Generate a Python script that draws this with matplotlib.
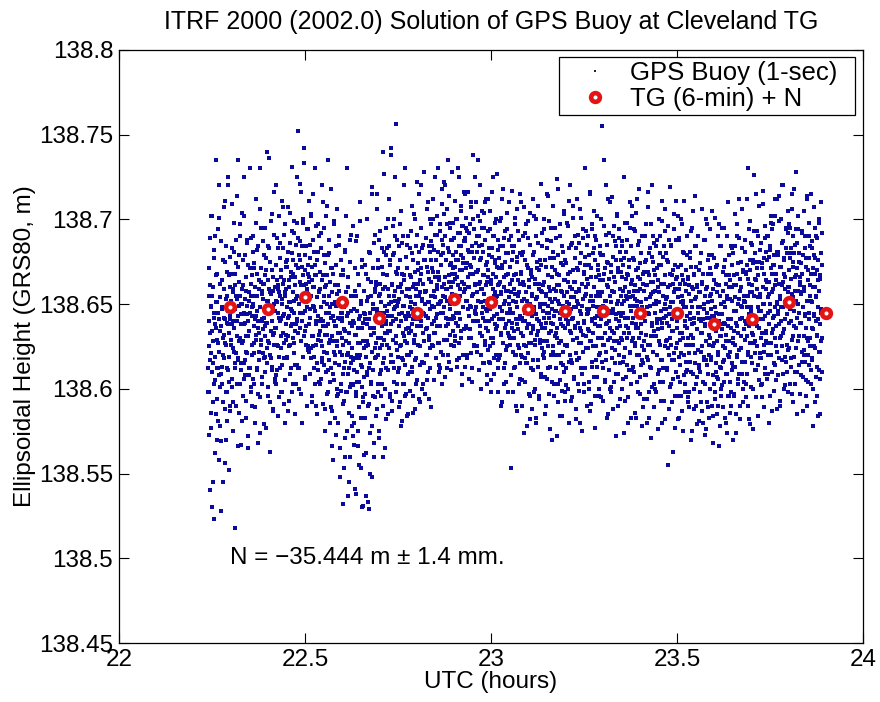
import numpy as np
import matplotlib
matplotlib.use('Agg')
import matplotlib.pyplot as plt
from matplotlib.lines import Line2D
from matplotlib.ticker import FormatStrFormatter

plt.rcParams['font.family'] = ['Liberation Sans', 'DejaVu Sans']

# GPS buoy heights, in mm above 138 m.
# two sample sets, each one value every 0.001 h, the second offset by half a step
buoy_start_a = 22.24
buoy_start_b = 22.2405
buoy_step = 0.001
buoy_height_a_mm = [
    612, 655, 598, 671, 540, 633, 689, 621, 577, 648, 702, 530, 615, 660, 592, 645, 523, 682, 638, 605, 667, 735, 585, 629, 651, 570, 694, 612, 641, 558,
    647, 603, 676, 620, 545, 659, 632, 711, 588, 641, 626, 570, 684, 612, 655, 598, 638, 720, 552, 667, 619, 643, 590, 701, 634, 578, 662, 609, 528, 648,
    655, 621, 688, 640, 603, 672, 735, 617, 649, 586, 663, 630, 697, 611, 644, 567, 678, 626, 652, 601, 709, 638, 659, 592, 624, 681, 647, 518, 615, 668,
    634, 671, 612, 655, 598, 689, 643, 620, 667, 581, 650, 704, 628, 661, 606, 645, 725, 617, 679, 639, 593, 658, 622, 686, 644, 565, 631, 673, 608, 652,
    662, 618, 649, 690, 627, 603, 671, 641, 580, 655, 712, 632, 668, 611, 646, 597, 684, 636, 659, 622, 730, 648, 574, 663, 629, 695, 640, 607, 656, 621,
    639, 677, 615, 652, 740, 628, 664, 596, 645, 683, 620, 657, 563, 634, 699, 648, 611, 670, 632, 588, 658, 716, 626, 650, 604, 679, 642, 619, 667, 637,
    655, 612, 686, 641, 624, 670, 598, 653, 707, 633, 662, 618, 644, 691, 580, 657, 629, 675, 646, 603, 720, 636, 664, 611, 651, 683, 625, 659, 595, 642,
    668, 627, 652, 699, 614, 661, 638, 685, 603, 655, 725, 632, 672, 619, 648, 587, 681, 643, 660, 625, 704, 651, 609, 666, 637, 693, 646, 598, 676, 630,
    657, 694, 623, 668, 641, 752, 612, 679, 650, 600, 687, 636, 663, 716, 628, 655, 580, 672, 645, 698, 619, 661, 733, 634, 670, 607, 651, 684, 626, 659,
    642, 677, 618, 655, 703, 631, 664, 596, 649, 688, 625, 660, 612, 730, 646, 673, 590, 638, 667, 615, 654, 697, 629, 681, 604, 658, 640, 711, 622, 663,
    651, 614, 679, 632, 660, 588, 645, 702, 621, 667, 597, 638, 735, 611, 655, 680, 627, 648, 580, 671, 634, 659, 606, 692, 641, 618, 664, 625, 710, 637,
    628, 661, 597, 642, 685, 614, 652, 548, 633, 676, 603, 645, 620, 718, 589, 657, 631, 566, 668, 609, 640, 699, 622, 583, 651, 615, 673, 637, 600, 656,
    619, 655, 584, 637, 696, 603, 642, 532, 626, 670, 593, 648, 612, 560, 681, 634, 598, 657, 620, 730, 575, 645, 609, 666, 627, 545, 639, 601, 688, 615,
    611, 647, 580, 632, 671, 598, 655, 538, 620, 690, 604, 636, 566, 661, 618, 589, 643, 710, 627, 553, 650, 601, 676, 613, 531, 639, 595, 658, 624, 572,
    628, 665, 590, 641, 529, 612, 680, 636, 574, 655, 603, 715, 622, 548, 647, 596, 671, 633, 560, 659, 618, 691, 607, 641, 583, 668, 625, 537, 652, 610,
    645, 603, 672, 626, 590, 659, 740, 618, 681, 633, 565, 649, 612, 695, 638, 584, 663, 627, 706, 645, 598, 671, 620, 655, 575, 688, 641, 609, 662, 630,
    652, 690, 627, 756, 641, 603, 668, 619, 683, 646, 585, 659, 634, 712, 624, 650, 597, 676, 638, 742, 616, 661, 643, 593, 679, 629, 655, 700, 612, 648,
    636, 671, 610, 653, 589, 644, 697, 625, 662, 578, 640, 686, 618, 657, 603, 649, 720, 631, 667, 596, 643, 614, 678, 635, 659, 584, 627, 690, 645, 609,
    651, 613, 680, 638, 596, 660, 627, 703, 645, 588, 669, 632, 655, 618, 691, 641, 605, 674, 626, 662, 715, 637, 592, 657, 620, 683, 648, 610, 666, 634,
    658, 620, 689, 643, 605, 672, 636, 710, 651, 594, 665, 629, 681, 647, 612, 697, 655, 625, 720, 640, 668, 600, 652, 685, 633, 662, 615, 676, 644, 657,
    664, 627, 693, 651, 612, 679, 645, 718, 660, 603, 687, 638, 671, 655, 625, 700, 648, 682, 633, 666, 725, 642, 676, 618, 659, 691, 637, 669, 650, 610,
    671, 634, 698, 655, 620, 685, 648, 722, 666, 607, 690, 642, 676, 659, 629, 706, 652, 735, 638, 681, 663, 616, 695, 647, 673, 626, 660, 688, 641, 668,
    668, 700, 639, 676, 652, 617, 692, 661, 730, 645, 684, 627, 670, 655, 708, 634, 679, 602, 663, 696, 648, 674, 620, 687, 657, 715, 642, 672, 631, 665,
    660, 692, 635, 673, 648, 710, 621, 681, 655, 604, 668, 700, 640, 677, 626, 662, 725, 645, 686, 613, 659, 695, 637, 671, 652, 618, 682, 647, 666, 630,
    681, 642, 667, 615, 695, 652, 628, 710, 661, 636, 675, 603, 648, 690, 657, 622, 735, 670, 640, 684, 611, 663, 699, 633, 651, 677, 620, 659, 705, 645,
    637, 672, 655, 598, 688, 646, 623, 666, 712, 640, 679, 615, 651, 694, 630, 662, 605, 683, 649, 725, 627, 668, 643, 690, 618, 657, 676, 635, 700, 654,
    662, 620, 684, 648, 701, 633, 656, 592, 673, 641, 718, 627, 660, 689, 612, 652, 675, 638, 604, 667, 645, 694, 625, 658, 680, 631, 710, 650, 617, 671,
    645, 681, 612, 659, 634, 697, 620, 668, 651, 590, 675, 638, 706, 626, 655, 603, 688, 641, 662, 615, 715, 647, 630, 672, 553, 657, 684, 636, 664, 622,
    652, 615, 689, 638, 671, 597, 660, 627, 704, 645, 582, 668, 633, 656, 710, 620, 679, 642, 605, 663, 690, 631, 653, 574, 676, 640, 618, 697, 648, 625,
    638, 673, 609, 657, 692, 624, 650, 588, 666, 635, 712, 617, 681, 646, 600, 662, 629, 700, 653, 580, 675, 641, 613, 686, 634, 659, 596, 670, 627, 648,
    661, 622, 694, 642, 607, 676, 636, 655, 590, 683, 628, 715, 649, 612, 667, 633, 699, 645, 576, 658, 620, 687, 639, 604, 672, 651, 625, 708, 643, 596,
    630, 668, 603, 652, 718, 627, 661, 584, 645, 690, 615, 674, 638, 657, 599, 681, 622, 649, 705, 610, 664, 636, 593, 677, 646, 620, 695, 633, 658, 572,
    654, 617, 685, 641, 595, 670, 629, 708, 648, 606, 663, 637, 690, 621, 657, 582, 676, 643, 612, 698, 651, 626, 668, 600, 640, 683, 616, 660, 634, 720,
    639, 678, 612, 656, 693, 624, 665, 590, 647, 712, 630, 671, 603, 650, 686, 618, 659, 636, 580, 674, 644, 701, 627, 662, 609, 653, 689, 632, 669, 598,
    657, 620, 690, 645, 604, 673, 634, 715, 652, 587, 666, 628, 697, 641, 613, 680, 649, 625, 705, 660, 596, 676, 638, 655, 617, 688, 643, 607, 670, 630,
    641, 679, 616, 657, 755, 626, 664, 593, 648, 696, 633, 671, 605, 652, 720, 622, 685, 639, 660, 585, 674, 645, 611, 692, 630, 667, 600, 655, 680, 637,
    663, 623, 687, 644, 609, 676, 636, 702, 652, 590, 669, 627, 694, 640, 615, 681, 655, 630, 710, 646, 598, 673, 634, 658, 618, 690, 647, 604, 666, 628,
    636, 672, 611, 654, 695, 621, 662, 583, 646, 708, 628, 669, 600, 650, 684, 616, 658, 633, 574, 677, 642, 698, 624, 665, 607, 653, 688, 630, 667, 595,
    617, 668, 643, 589, 702, 655, 630, 676, 610, 649, 693, 625, 661, 583, 638, 712, 652, 604, 671, 636, 658, 620, 687, 645, 597, 665, 633, 680, 614, 648,
    640, 675, 608, 653, 697, 619, 661, 580, 645, 716, 626, 667, 598, 649, 683, 613, 656, 631, 571, 678, 639, 690, 622, 663, 603, 650, 686, 628, 669, 594,
    673, 628, 651, 604, 690, 641, 617, 662, 580, 699, 636, 655, 612, 678, 647, 593, 667, 625, 706, 643, 658, 600, 684, 631, 650, 620, 671, 639, 609, 660,
    634, 670, 606, 651, 694, 617, 659, 577, 643, 711, 624, 665, 596, 647, 680, 611, 654, 629, 555, 675, 637, 688, 620, 661, 601, 648, 684, 626, 667, 592,
    648, 610, 679, 636, 595, 666, 627, 702, 644, 582, 659, 619, 688, 633, 604, 673, 651, 621, 697, 655, 587, 664, 630, 650, 608, 680, 640, 598, 662, 616,
    656, 621, 589, 677, 641, 610, 693, 632, 660, 575, 648, 705, 626, 668, 600, 639, 684, 615, 653, 590, 672, 635, 661, 607, 645, 690, 623, 581, 657, 630,
    633, 668, 604, 647, 688, 619, 655, 573, 638, 700, 617, 660, 592, 642, 676, 609, 651, 626, 583, 671, 630, 694, 612, 657, 598, 640, 680, 622, 663, 587,
    645, 607, 673, 628, 590, 661, 620, 697, 640, 578, 655, 613, 684, 631, 600, 668, 647, 617, 705, 652, 584, 659, 625, 643, 603, 677, 636, 594, 662, 610,
    622, 664, 598, 641, 683, 611, 652, 570, 635, 695, 616, 658, 589, 639, 672, 604, 648, 624, 580, 667, 628, 690, 609, 653, 596, 637, 679, 619, 660, 586,
    651, 613, 680, 634, 597, 667, 626, 703, 646, 585, 661, 619, 690, 637, 606, 674, 653, 623, 712, 658, 590, 665, 631, 649, 609, 683, 642, 600, 669, 616,
    638, 673, 609, 655, 730, 620, 662, 582, 644, 699, 627, 670, 601, 648, 685, 615, 657, 632, 576, 676, 640, 693, 621, 665, 604, 651, 688, 629, 668, 595,
    656, 618, 686, 641, 603, 674, 633, 709, 650, 589, 668, 626, 696, 643, 612, 681, 659, 628, 715, 664, 595, 671, 637, 654, 614, 690, 646, 605, 675, 621,
    643, 679, 614, 661, 702, 625, 668, 588, 650, 712, 633, 676, 606, 654, 690, 620, 663, 638, 580, 682, 646, 698, 627, 671, 610, 657, 694, 635, 673, 599,
    660, 623, 692, 646, 608, 679, 638, 714, 655, 593, 672, 631, 700, 648, 617, 686, 663, 633, 720, 668, 600, 676, 641, 659, 619, 695, 651, 610, 680, 626,
    647, 683, 618, 665, 706, 629, 672, 592, 654, 718, 637, 680, 610, 658, 694, 624, 667, 642, 585, 686, 650, 702, 631, 675, 614, 661, 697, 639, 677, 603,
    658, 620, 690, 644, 605, 677, 636, 712, 652, 590, 670, 628, 698, 645, 614, 684, 661, 630, 715, 666, 597, 674, 639, 656, 616, 692, 648, 607, 679, 623,
    641, 676, 611, 658, 700, 622, 665, 585, 647, 710, 630, 673, 603, 651, 687, 617, 660, 635, 578, 679, 643, 695, 624, 668, 607, 654, 690, 632, 670, 596,
]
buoy_height_b_mm = [
    598, 640, 625, 573, 661, 617, 649, 702, 586, 634, 610, 655, 545, 628, 677, 603, 642, 619, 690, 562, 636, 651, 594, 612, 668, 627, 581, 645, 720, 608,
    622, 654, 601, 687, 637, 569, 648, 613, 664, 592, 630, 707, 618, 642, 556, 675, 627, 598, 653, 639, 581, 669, 611, 646, 725, 604, 633, 660, 587, 641,
    668, 629, 651, 606, 683, 640, 575, 657, 622, 698, 636, 612, 661, 647, 590, 674, 631, 714, 653, 618, 643, 566, 679, 628, 655, 603, 690, 638, 650, 615,
    627, 659, 644, 596, 676, 615, 638, 702, 653, 608, 631, 666, 583, 649, 621, 688, 640, 572, 657, 634, 612, 671, 645, 730, 601, 662, 626, 648, 590, 681,
    650, 606, 637, 674, 621, 660, 589, 643, 698, 629, 655, 612, 682, 640, 568, 664, 633, 617, 706, 648, 595, 671, 626, 658, 641, 603, 687, 635, 653, 579,
    662, 631, 695, 610, 648, 577, 670, 639, 624, 684, 652, 601, 659, 736, 627, 645, 592, 675, 618, 656, 640, 703, 613, 666, 587, 649, 633, 691, 606, 660,
    636, 673, 652, 608, 689, 626, 661, 584, 645, 702, 619, 657, 640, 677, 598, 666, 631, 711, 650, 614, 683, 643, 591, 664, 627, 697, 655, 605, 672, 638,
    659, 618, 676, 642, 707, 631, 664, 593, 651, 686, 626, 669, 612, 647, 731, 638, 680, 603, 657, 621, 692, 645, 666, 585, 634, 673, 653, 614, 698, 640,
    671, 633, 689, 650, 612, 676, 645, 721, 628, 661, 597, 684, 640, 667, 619, 700, 655, 631, 742, 646, 606, 679, 637, 662, 590, 694, 648, 625, 673, 656,
    638, 666, 609, 685, 647, 624, 702, 655, 592, 672, 631, 660, 715, 619, 648, 681, 603, 667, 640, 696, 626, 654, 585, 676, 643, 611, 690, 657, 632, 669,
    659, 603, 683, 628, 648, 720, 616, 667, 591, 640, 695, 622, 655, 575, 674, 637, 610, 661, 708, 632, 650, 598, 679, 645, 617, 688, 629, 663, 604, 642,
    612, 650, 587, 671, 628, 558, 643, 697, 605, 661, 620, 637, 573, 684, 649, 596, 625, 706, 633, 580, 658, 614, 690, 641, 565, 622, 667, 599, 645, 630,
    640, 591, 667, 609, 553, 635, 682, 616, 571, 651, 628, 702, 598, 643, 537, 621, 660, 586, 633, 612, 675, 560, 646, 603, 691, 624, 578, 655, 617, 640,
    602, 639, 567, 658, 618, 541, 632, 687, 596, 646, 610, 575, 668, 627, 555, 641, 604, 699, 620, 583, 652, 614, 530, 636, 672, 592, 628, 561, 645, 607,
    644, 597, 673, 619, 562, 638, 700, 608, 654, 533, 626, 681, 591, 645, 615, 550, 663, 632, 604, 719, 622, 578, 650, 611, 686, 636, 568, 657, 624, 595,
    619, 661, 588, 647, 715, 630, 603, 676, 642, 571, 656, 624, 693, 611, 651, 596, 683, 637, 560, 668, 615, 645, 727, 629, 600, 660, 640, 582, 679, 633,
    667, 626, 700, 643, 611, 684, 655, 595, 673, 634, 738, 651, 620, 662, 587, 696, 640, 616, 680, 647, 604, 725, 658, 631, 669, 598, 649, 688, 623, 660,
    651, 612, 684, 637, 660, 592, 676, 626, 705, 645, 581, 668, 633, 617, 690, 649, 603, 664, 628, 730, 641, 597, 655, 685, 620, 671, 636, 585, 659, 643,
    633, 667, 599, 654, 693, 622, 647, 708, 610, 676, 641, 586, 662, 629, 700, 650, 617, 684, 603, 659, 637, 722, 626, 670, 645, 594, 681, 655, 614, 664,
    671, 637, 695, 653, 616, 683, 645, 603, 662, 728, 628, 676, 650, 597, 689, 635, 658, 620, 706, 642, 669, 610, 684, 651, 631, 700, 624, 663, 589, 676,
    649, 684, 626, 669, 712, 640, 658, 605, 691, 654, 633, 676, 618, 702, 661, 644, 730, 627, 681, 650, 614, 666, 697, 637, 673, 652, 622, 709, 645, 688,
    680, 645, 703, 662, 629, 690, 654, 720, 637, 676, 612, 697, 659, 641, 683, 620, 714, 667, 650, 698, 632, 674, 611, 688, 656, 728, 643, 679, 663, 625,
    651, 689, 628, 672, 711, 645, 681, 613, 666, 700, 637, 676, 654, 725, 618, 692, 659, 641, 705, 630, 684, 670, 609, 696, 648, 677, 635, 716, 662, 687,
    689, 652, 701, 636, 674, 620, 693, 660, 716, 643, 681, 606, 668, 697, 649, 630, 707, 672, 612, 684, 656, 738, 640, 677, 625, 694, 661, 646, 710, 669,
    644, 681, 625, 669, 702, 652, 690, 611, 662, 720, 637, 676, 600, 659, 695, 631, 685, 648, 667, 615, 704, 656, 640, 688, 626, 673, 712, 647, 663, 608,
    670, 634, 693, 653, 616, 683, 647, 705, 625, 664, 598, 678, 641, 716, 659, 630, 690, 609, 655, 674, 638, 698, 620, 666, 651, 727, 644, 682, 612, 661,
    641, 677, 618, 663, 699, 632, 657, 590, 671, 646, 712, 627, 684, 650, 603, 666, 636, 693, 615, 658, 680, 623, 645, 704, 633, 668, 598, 654, 688, 640,
    662, 626, 690, 645, 608, 676, 639, 717, 652, 598, 667, 630, 684, 613, 656, 701, 641, 620, 678, 648, 587, 664, 635, 693, 624, 657, 606, 680, 643, 669,
    633, 668, 619, 652, 590, 681, 640, 707, 626, 661, 604, 645, 692, 615, 657, 636, 578, 673, 649, 621, 699, 638, 664, 596, 650, 685, 627, 612, 670, 643,
    655, 611, 679, 637, 702, 648, 598, 665, 626, 690, 644, 583, 671, 632, 654, 617, 708, 640, 662, 594, 676, 629, 650, 721, 607, 658, 636, 684, 620, 646,
    628, 663, 700, 618, 650, 585, 672, 639, 656, 606, 688, 645, 625, 714, 660, 597, 642, 677, 613, 653, 634, 695, 570, 666, 647, 622, 681, 638, 603, 659,
    670, 631, 653, 689, 612, 646, 724, 636, 661, 592, 679, 650, 620, 667, 605, 697, 641, 628, 658, 584, 684, 645, 614, 673, 637, 703, 655, 598, 664, 626,
    641, 602, 674, 657, 625, 696, 638, 663, 580, 650, 711, 620, 669, 633, 647, 593, 686, 659, 615, 642, 701, 629, 654, 607, 677, 636, 663, 588, 648, 683,
    617, 652, 691, 639, 670, 599, 658, 627, 706, 646, 612, 680, 634, 662, 575, 649, 694, 622, 668, 640, 603, 673, 655, 730, 631, 660, 590, 644, 685, 624,
    662, 635, 600, 679, 647, 716, 628, 655, 591, 671, 640, 694, 616, 652, 633, 683, 607, 660, 642, 577, 690, 625, 666, 648, 702, 613, 657, 637, 673, 596,
    648, 684, 621, 664, 595, 643, 700, 630, 657, 612, 679, 649, 735, 626, 668, 604, 652, 638, 691, 617, 661, 583, 675, 646, 629, 712, 640, 665, 600, 655,
    636, 601, 669, 651, 713, 624, 645, 588, 678, 657, 633, 696, 615, 663, 641, 572, 684, 628, 650, 703, 609, 671, 645, 620, 689, 637, 659, 594, 676, 643,
    666, 629, 687, 645, 606, 673, 652, 725, 619, 660, 593, 681, 637, 655, 698, 614, 668, 642, 580, 676, 633, 657, 710, 622, 649, 603, 684, 639, 664, 611,
    642, 677, 613, 658, 694, 627, 653, 586, 670, 636, 704, 649, 620, 666, 598, 685, 644, 630, 718, 659, 607, 674, 638, 651, 578, 690, 625, 662, 646, 615,
    658, 623, 690, 640, 608, 676, 632, 661, 594, 648, 707, 617, 669, 644, 583, 680, 654, 626, 697, 612, 663, 637, 720, 601, 657, 675, 634, 589, 670, 645,
    631, 667, 598, 652, 688, 620, 641, 576, 664, 635, 700, 611, 657, 680, 626, 646, 593, 673, 639, 711, 617, 655, 604, 684, 642, 662, 582, 650, 693, 628,
    653, 612, 676, 639, 696, 624, 660, 588, 644, 719, 630, 668, 603, 651, 685, 617, 641, 563, 662, 634, 703, 621, 657, 596, 673, 645, 610, 688, 636, 666,
    640, 672, 607, 654, 583, 689, 629, 662, 614, 700, 645, 596, 667, 633, 652, 575, 681, 620, 648, 711, 637, 603, 670, 626, 658, 690, 611, 643, 665, 592,
    626, 661, 598, 645, 681, 616, 652, 570, 672, 638, 695, 609, 659, 630, 588, 667, 642, 714, 621, 654, 603, 684, 635, 660, 579, 648, 690, 614, 641, 670,
    648, 610, 674, 633, 592, 662, 625, 706, 641, 580, 668, 617, 650, 688, 603, 637, 576, 659, 628, 697, 614, 645, 668, 589, 632, 679, 620, 655, 600, 642,
    619, 656, 590, 643, 679, 608, 636, 568, 664, 627, 701, 598, 648, 615, 672, 634, 585, 657, 622, 690, 606, 644, 566, 661, 631, 684, 612, 650, 596, 638,
    644, 602, 669, 625, 695, 617, 651, 583, 638, 676, 609, 662, 632, 574, 655, 620, 710, 641, 596, 667, 628, 653, 604, 684, 636, 590, 660, 615, 673, 630,
    627, 661, 596, 646, 684, 613, 654, 574, 639, 697, 620, 668, 603, 650, 633, 689, 609, 658, 641, 582, 675, 624, 660, 706, 616, 648, 592, 670, 635, 655,
    652, 616, 681, 640, 603, 669, 631, 712, 648, 590, 665, 622, 694, 637, 657, 579, 676, 646, 619, 686, 633, 661, 600, 674, 643, 726, 627, 655, 611, 680,
    638, 675, 611, 659, 693, 625, 648, 584, 667, 636, 708, 618, 654, 682, 602, 646, 630, 671, 595, 660, 641, 717, 622, 677, 650, 609, 689, 634, 664, 628,
    663, 627, 690, 645, 609, 678, 638, 656, 596, 684, 650, 620, 702, 633, 668, 587, 659, 642, 697, 615, 673, 648, 630, 712, 605, 664, 637, 681, 622, 651,
    644, 681, 618, 662, 699, 630, 653, 590, 672, 640, 720, 625, 661, 687, 609, 648, 635, 677, 602, 666, 651, 694, 616, 683, 644, 626, 705, 657, 598, 670,
    660, 624, 695, 649, 613, 680, 640, 715, 656, 597, 675, 631, 690, 646, 619, 685, 603, 666, 652, 728, 636, 671, 610, 658, 694, 628, 645, 680, 614, 663,
    639, 674, 608, 657, 693, 622, 668, 587, 648, 705, 631, 660, 616, 683, 643, 596, 672, 630, 652, 714, 620, 664, 604, 677, 641, 690, 625, 655, 611, 668,
    652, 618, 683, 636, 600, 671, 644, 707, 625, 660, 592, 677, 640, 655, 613, 689, 631, 664, 584, 648, 698, 622, 667, 638, 606, 680, 645, 628, 692, 610,
]

# tide gauge 6-min values + N
tg_time = [22.3, 22.4, 22.5, 22.6, 22.7, 22.8, 22.9, 23.0, 23.1, 23.2, 23.3,
           23.4, 23.5, 23.6, 23.7, 23.8, 23.9]
tg_height = [138.648, 138.647, 138.654, 138.651, 138.642, 138.645, 138.653, 138.651,
             138.647, 138.646, 138.646, 138.645, 138.645, 138.638, 138.641, 138.651, 138.645]

# set a was typed in 30-sample rows with a similar order each row;
# shift each row so the typing order doesn't show up as stripes
rows_a = np.array(buoy_height_a_mm).reshape(-1, 30)
rows_a = np.array([np.roll(r, 7 * i) for i, r in enumerate(rows_a)])
h_a = 138.0 + rows_a.ravel() / 1000.0
h_b = 138.0 + np.array(buoy_height_b_mm) / 1000.0
t_a = buoy_start_a + buoy_step * np.arange(len(h_a))
t_b = buoy_start_b + buoy_step * np.arange(len(h_b))
buoy_t = np.concatenate([t_a, t_b])
buoy_h = np.concatenate([h_a, h_b])

dot_col = (0.04, 0.04, 0.62)
red = '#e41414'
fs = 17.5

fig = plt.figure(figsize=(8.8, 7.02), dpi=100)
ax = fig.add_axes([0.135, 0.084, 0.846, 0.845])

ax.plot(buoy_t, buoy_h, linestyle='none', marker='s', markersize=2.35,
        markeredgewidth=0, color=dot_col)
ax.plot(tg_time, tg_height, linestyle='none', marker='o', markersize=6.3,
        markeredgewidth=3.3, markeredgecolor=red, markerfacecolor='white')

ax.set_xlim(22, 24)
ax.set_ylim(138.45, 138.8)
ax.set_xticks([22, 22.5, 23, 23.5, 24])
ax.set_yticks(np.arange(138.45, 138.801, 0.05))
ax.yaxis.set_major_formatter(FormatStrFormatter('%g'))
ax.xaxis.set_major_formatter(FormatStrFormatter('%g'))
ax.tick_params(direction='in', top=True, right=True, length=7, width=0.8,
               labelsize=fs, pad=4)
for s in ax.spines.values():
    s.set_linewidth(0.9)

ax.set_title('ITRF 2000 (2002.0) Solution of GPS Buoy at Cleveland TG',
             fontsize=18, pad=15)
ax.set_xlabel('UTC (hours)', fontsize=fs, labelpad=0)
ax.set_ylabel('Ellipsoidal Height (GRS80, m)', fontsize=fs, labelpad=2)

ax.text(22.3, 138.5, 'N = \u221235.444 m \u00b1 1.4 mm.', fontsize=fs,
        ha='left', va='center')

handles = [
    Line2D([], [], linestyle='none', marker='s', markersize=2.0,
           markeredgewidth=0, color='#202040'),
    Line2D([], [], linestyle='none', marker='o', markersize=6.3,
           markeredgewidth=3.3, markeredgecolor=red, markerfacecolor='white'),
]
# legend box stretched to the width it has in the original
leg = ax.legend(handles, ['GPS Buoy (1-sec)', 'TG (6-min) + N'], loc='upper left',
                bbox_to_anchor=(0.591, 0.5, 0.398, 0.488), mode='expand',
                fontsize=18.5, fancybox=False, framealpha=1, edgecolor='black',
                borderpad=0.15, labelspacing=0.1, handlelength=2.5,
                handletextpad=0.12, borderaxespad=0)
leg.get_frame().set_linewidth(0.9)

fig.savefig('out.png', dpi=100)
